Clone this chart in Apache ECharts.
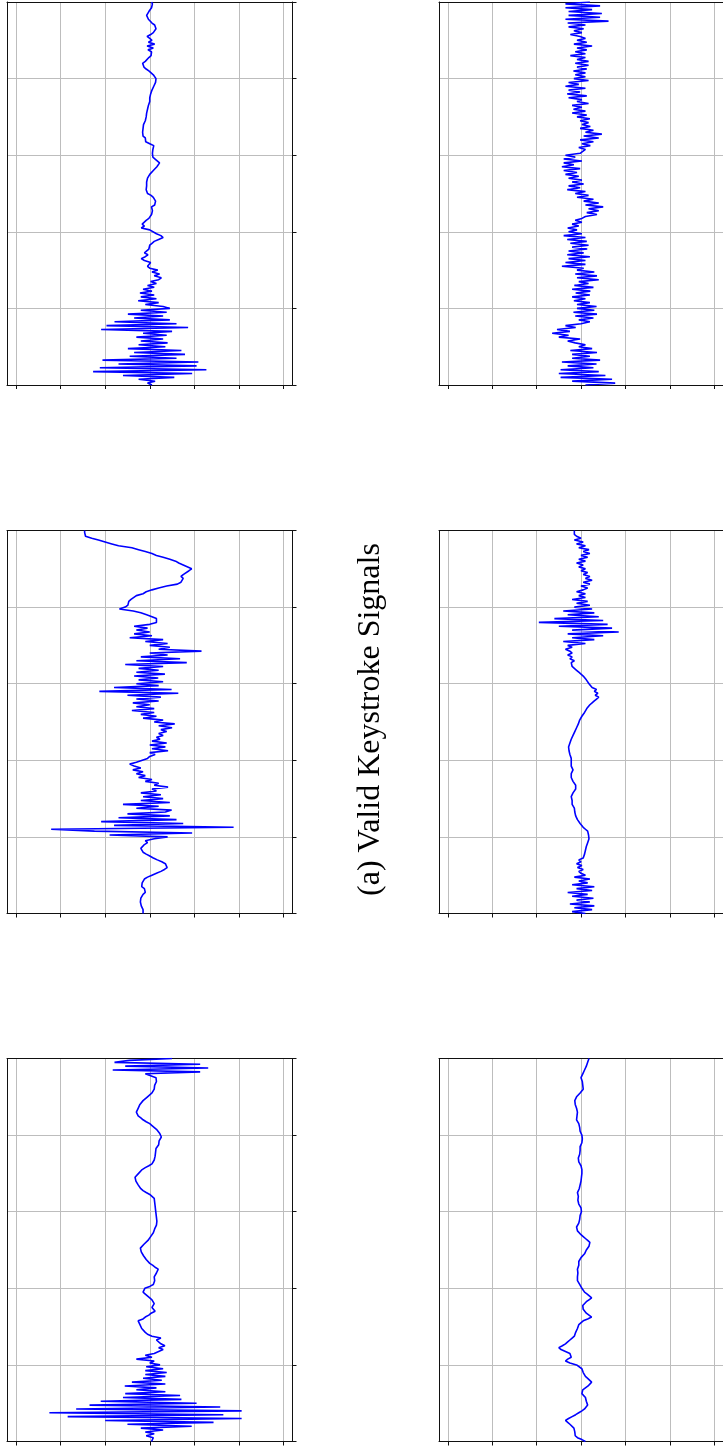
<!DOCTYPE html>
<html>
<head>
<meta charset="utf-8">
<script src="https://cdn.jsdelivr.net/npm/echarts@6/dist/echarts.min.js"></script>
<style>
html,body{margin:0;padding:0;background:#fff;}
#chart{width:723px;height:1448px;}
</style>
</head>
<body>
<div id="chart"></div>
<script>
// ---- data (time axis 0..500, value axis about -3.2..3.2) ----
const timeTicks = [0, 100, 200, 300, 400, 500];
const valueTicks = [-3, -2, -1, 0, 1, 2, 3];
const captionText = '(a) Valid Keystroke Signals';

const validSignal1 = [
0.05,-0.05,0.12,-0.25,0.55,-0.6,0.95,-1.27,1.27,-1.12,
1.05,-0.7,1.09,-1.06,0.6,-0.45,0.79,-0.35,0.71,-0.49,
0.35,-0.25,0.4,-0.2,0.3,-0.3,0.38,-0.15,0.5,-1.09,
0.86,-0.97,0.6,-0.79,0.45,-0.35,0.3,-0.49,0.38,-0.2,
0.45,0.3,-0.1,0.2,-0.26,0.15,-0.2,0.1,-0.22,0.05,
-0.15,0.1,-0.05,0.15,0.02,0.2,0.26,0.1,0.22,0.05,
0.18,0,-0.05,-0.08,0.02,-0.12,-0.19,-0.1,-0.04,-0.12,
-0.08,-0.02,-0.05,0,0.05,0.1,0.2,0.3,0.25,0.15,
0.12,0,-0.19,-0.12,-0.17,-0.15,-0.08,-0.02,0.02,0.04,
0,0.06,0.08,0.04,0.11,0.08,0.13,0.15,0.08,0.03,
-0.05,-0.09,-0.08,-0.1,-0.07,-0.09,-0.07,-0.04,-0.05,-0.02,
0,0.04,0.08,0.12,0.16,0.2,0.22,0.18,0.12,0.07,
0.05,0.06,0.1,0.07,0.11,0.09,0,-0.09,-0.12,-0.1,
-0.15,-0.14,-0.16,-0.12,-0.15,-0.13,-0.14,-0.12,-0.1,-0.11,
-0.08,-0.09,-0.07,-0.06,-0.05,-0.06,-0.03,-0.02,0,0.01,
0,0.03,0.02,0.04,0.05,0.06,0.09,0.1,0.13,0.15,
0.14,0.12,0.08,0.03,-0.02,-0.08,-0.13,-0.17,-0.16,-0.1,
-0.06,-0.02,0.03,0.07,0.04,-0.04,0.08,-0.06,0.11,-0.03,
0.05,0,-0.06,0.02,0.08,0.12,0.14,0.1,0.11,0.05,
0.02,-0.03,-0.05,-0.07,-0.05,-0.02,0.02,0.04,0.07,0.06,
0.04];

const validSignal2 = [
-0.15,-0.17,-0.15,-0.18,-0.19,-0.17,-0.21,-0.22,-0.2,-0.16,
-0.15,-0.1,-0.07,-0.12,-0.18,-0.19,-0.17,-0.19,-0.12,-0.05,
0.05,0.15,0.25,0.33,0.39,0.41,0.35,0.27,0.17,0.08,
0,-0.08,-0.15,-0.19,-0.2,-0.22,-0.12,-0.05,-0.1,0.1,
0.4,-0.9,0.95,-1.24,-2.21,1.88,-0.8,0.75,-1.09,0.6,
-0.7,0.45,-0.5,0.35,0.49,-0.3,0.2,-0.6,0.45,-0.2,
0.3,-0.15,0.25,-0.2,0.15,0.05,0.41,0.1,0.2,-0.1,
0.05,-0.25,-0.1,-0.3,-0.15,-0.38,-0.2,-0.35,-0.45,-0.3,
-0.3,-0.05,0,0.12,0,0.41,0.05,0.35,0,0.38,
0.05,0.23,0.15,0.3,0.2,0.38,0.25,0.5,0.2,0.56,
0.1,0.3,-0.15,0.15,-0.2,0.1,-0.4,0.1,-0.3,0,
-0.38,0.2,-0.3,0.25,-0.5,0.64,-1.13,0.49,-0.8,0.2,
-0.3,0.3,-0.25,0.19,-0.35,0.34,-0.3,0.2,-0.25,0.3,
-0.55,0.83,-0.3,0.68,-0.2,0.4,0,1.16,0.2,0.45,
0,0.4,-0.1,0.3,-0.45,0.05,-0.35,0,-0.3,-0.05,
-0.35,0,0.15,0.12,0.15,0.05,-0.07,-0.2,-0.37,-0.68,
-0.55,-0.49,-0.45,-0.47,-0.42,-0.41,-0.3,-0.15,-0.08,0.05,
0.2,0.38,0.62,0.7,0.71,0.75,0.7,0.75,0.78,0.88,
0.94,0.9,0.75,0.65,0.58,0.45,0.3,0.15,0.05,-0.1,
-0.25,-0.4,-0.7,-0.85,-1.0,-1.15,-1.3,-1.44,-1.47,-1.46,
-1.46];

const validSignal3 = [
0.04,0,0.08,-0.08,0.1,-0.1,0.3,-0.2,0.94,-0.5,
1.43,-1,2.06,-1.84,1.65,-2.25,2.06,-1.65,1.58,-1.35,
1.05,-1.1,0.71,-0.6,0.68,-0.55,0.35,-0.3,0.15,-0.56,
0.35,-0.4,0.27,-0.15,0.35,-0.1,0.38,-0.1,0.3,-0.08,
0.23,0,0.1,-0.3,0.05,-0.1,0.1,0.2,0.3,0.2,
0.34,0.25,0.28,0.15,0.25,0.05,-0.05,-0.1,-0.12,-0.18,
-0.15,-0.22,-0.2,-0.26,-0.15,-0.1,-0.02,0.03,0.12,0.15,
0.05,0.08,0.1,0.11,0.05,0,-0.04,-0.1,-0.15,-0.12,
-0.11,0,0.08,0.09,0.11,0.12,0.1,0.14,0.15,0.17,
0.19,0.12,0.07,0,-0.04,-0.08,-0.11,-0.14,-0.18,-0.19,
-0.22,-0.21,-0.17,-0.13,-0.1,-0.04,-0.02,0.02,0.04,0.08,
0.1,0.11,0.14,0.15,0.14,0.16,0.13,0.15,0.12,0.14,
0.11,0.13,0.11,0.12,0.1,0.11,0.08,0.1,0.06,0,
-0.08,-0.15,-0.2,-0.22,-0.26,-0.3,-0.31,-0.34,-0.33,-0.3,
-0.25,-0.21,-0.17,-0.1,-0.02,0.05,0.08,0.1,0.11,0.12,
0.15,0.13,0.16,0.14,0.15,0.2,0.22,0.21,0.25,0.26,
0.24,0.22,0.18,0.15,0.12,0.05,0,-0.08,-0.15,-0.2,
-0.26,-0.28,-0.3,-0.29,-0.26,-0.24,-0.22,-0.18,-0.15,-0.12,
-0.05,-0.02,0.05,0.08,0.1,0.12,0.11,0.13,0.15,0.12,
0.14,0.1,-0.1,1.13,-0.83,1.31,-0.55,1.13,-0.79,-0.45,
0.5];

const otherSignal1 = [
0.1,0.77,-0.2,0.7,-0.46,0.55,-0.5,0.4,-0.46,0.28,
-0.3,0.35,-0.43,0.43,-0.2,0.2,-0.2,0.36,-0.24,0.25,
-0.05,0.1,-0.13,-0.3,-0.02,-0.5,-0.28,-0.65,-0.25,-0.54,
-0.12,-0.35,0,0.2,-0.05,0.28,-0.13,0.36,-0.17,0.3,
-0.09,0.35,-0.09,0.2,-0.16,0.1,-0.2,0.2,-0.12,0.21,
-0.2,0.28,-0.15,0.17,-0.05,0.4,-0.09,0.36,-0.13,0.3,
-0.09,0.06,-0.43,0.1,-0.35,0.1,-0.28,0.2,-0.31,0.06,
-0.28,0.14,-0.2,0.17,-0.24,0.13,-0.31,0.1,-0.39,0.02,
-0.28,-0.09,-0.3,-0.05,-0.2,0.02,-0.13,0.02,0.1,0.36,
0.13,0.4,0.17,0.5,0.1,0.4,0.06,0.28,-0.09,0.17,
-0.13,0.1,-0.31,-0.02,-0.28,0.06,-0.2,0.02,-0.28,-0.05,
-0.35,-0.09,-0.39,-0.02,-0.43,-0.16,-0.39,0.02,-0.39,-0.13,
-0.35,-0.02,-0.05,0.1,-0.05,0.21,0.02,0.28,-0.02,0.4,
0.06,0.47,0.1,0.28,-0.02,0.21,0.02,0.17,-0.02,0.2,
-0.09,0.13,-0.2,0.1,-0.17,0.02,-0.2,0.17,-0.09,0.02,
-0.28,0.13,-0.31,-0.02,-0.28,0.1,-0.35,-0.05,-0.28,0.17,
-0.16,0.1,-0.13,0.1,-0.17,0.13,-0.09,0.17,-0.13,0.17,
-0.09,0.1,-0.24,0.1,-0.13,0.13,-0.09,0.25,-0.16,0.13,
-0.09,0.1,-0.02,-0.24,0.02,-0.16,0.06,-0.28,0.1,-0.3,
0.62,-0.35,0.43,-0.28,0.47,-0.28,0.25,-0.35,0.43,-0.35,
0.2];

const otherSignal2 = [
0.1,-0.2,0.25,-0.15,0.3,-0.25,0.2,-0.1,0.28,-0.2,
0.15,-0.3,0.25,-0.1,0.3,-0.2,0.15,-0.05,0.2,-0.15,
0.1,0,-0.05,0.05,-0.08,0.02,-0.1,0,-0.05,0.05,
0.02,0.08,0.05,0.1,0.08,0.12,0.1,0.15,0.12,0.18,
0.2,0.17,0.2,0.15,0.1,0.05,0.02,-0.02,-0.05,-0.08,
-0.1,-0.12,-0.1,-0.14,-0.12,-0.15,-0.18,-0.2,-0.17,-0.2,
-0.22,-0.22,-0.2,-0.18,-0.15,-0.12,-0.1,-0.12,-0.15,-0.18,
-0.2,-0.22,-0.2,-0.22,-0.2,-0.18,-0.2,-0.22,-0.2,-0.22,
-0.2,-0.22,-0.24,-0.25,-0.26,-0.27,-0.28,-0.28,-0.27,-0.25,
-0.24,-0.22,-0.2,-0.18,-0.16,-0.14,-0.12,-0.1,-0.08,-0.06,
-0.05,-0.03,0,0.02,0.05,0.08,0.1,0.13,0.16,0.2,
0.25,0.3,0.35,0.4,0.32,0.38,0.3,0.35,0.25,0.22,
0.18,0.15,0.12,0.08,0.05,0,-0.05,-0.1,-0.15,-0.2,
-0.18,-0.22,-0.15,-0.25,-0.2,-0.3,-0.2,-0.25,-0.35,-0.2,
-0.3,0.1,-0.4,0.3,-0.2,0.5,-0.3,0.85,-0.2,0.7,
-0.5,0.6,-0.95,0.5,-0.6,0.4,-0.3,0.3,-0.4,0.25,
-0.15,0.2,-0.1,0.15,-0.2,0.1,-0.05,0.1,-0.1,0.05,
0.15,0,0.2,0.05,0.25,0.1,0.2,0.05,0.15,0,
0.1,-0.05,0.05,-0.1,0.1,-0.05,0.15,0,0.2,0.05,
0.18,-0.05,0.1,-0.1,0.05,-0.15,0,-0.1,-0.15,-0.12,
-0.15];

const otherSignal3 = [
0.1,0.02,-0.08,-0.13,-0.1,-0.14,-0.12,-0.16,-0.2,-0.25,
-0.3,-0.35,-0.28,-0.2,-0.12,-0.05,0.02,0.08,0.12,0.15,
0.14,0.12,0.13,0.1,0.06,0.02,0,0.04,0.1,0.16,
0.2,0.24,0.2,0.15,0.1,0.08,0.05,0.04,0.02,0,
-0.1,-0.25,-0.35,-0.3,-0.22,-0.2,-0.25,-0.35,-0.45,-0.5,
-0.42,-0.35,-0.3,-0.25,-0.2,-0.15,-0.13,-0.12,-0.1,-0.08,
-0.06,-0.05,-0.02,0.05,0.15,0.24,0.2,0.12,0.08,0.05,
0.02,0.04,0.08,0.12,0.18,0.24,0.2,0.14,0.08,0.04,
0.02,0,-0.03,-0.06,-0.08,-0.1,-0.08,-0.1,-0.07,-0.05,
-0.08,-0.06,-0.05,-0.03,-0.05,-0.02,0,0.04,0.08,0.1,
0.12,0.15,0.18,0.22,0.2,0.15,0.1,0.05,0,-0.04,
-0.08,-0.12,-0.1,-0.08,-0.05,-0.06,-0.03,0,-0.02,0.02,
0.01,0.02,0,-0.03,-0.05,-0.04,-0.07,-0.08,-0.06,-0.1,
-0.08,-0.06,-0.04,-0.05,-0.02,-0.03,0,-0.02,0.01,0,
0.02,0,0.02,-0.01,0,-0.03,-0.05,-0.04,-0.06,-0.05,
-0.03,-0.05,-0.02,0,-0.02,0.01,0.02,0,0.03,0.02,
0.02,0,-0.02,-0.04,-0.03,-0.06,-0.05,-0.08,-0.1,-0.07,
-0.09,-0.1,-0.08,-0.12,-0.1,-0.14,-0.13,-0.16,-0.14,-0.15,
-0.1,-0.06,-0.02,0.02,0.05,0.06,0.04,0.06,0.03,0.02,
0,0.02,0.04,0.06,0.08,0.1,0.12,0.14,0.15,0.17,
0.18];

// ---- layout ----
const panels = [
  {data: validSignal1, left: 7,   top: 2},
  {data: validSignal2, left: 7,   top: 530.5},
  {data: validSignal3, left: 7,   top: 1058.5},
  {data: otherSignal1, left: 439, top: 2},
  {data: otherSignal2, left: 439, top: 530.5},
  {data: otherSignal3, left: 439, top: 1058.5}
];
const PW = 285.5, PH = 383;

function toPoints(vals) {
  const step = 500 / (vals.length - 1);
  return vals.map((v, i) => [v, i * step]);
}

const grids = [], xAxes = [], yAxes = [], series = [];
panels.forEach((p, k) => {
  grids.push({left: p.left, top: p.top, width: PW, height: PH, show: false, containLabel: false});
  xAxes.push({
    type: 'value', gridIndex: k, min: -3.2, max: 3.2, position: 'bottom',
    axisLine: {show: true, onZero: false, lineStyle: {color: '#111', width: 1}},
    axisTick: {show: true, inside: false, length: 4, customValues: valueTicks, lineStyle: {color: '#111', width: 1}},
    axisLabel: {show: false, customValues: valueTicks},
    splitLine: {show: true, lineStyle: {color: '#bdbdbd', width: 1}}
  });
  xAxes.push({
    type: 'value', gridIndex: k, min: -3.2, max: 3.2, position: 'top',
    axisLine: {show: true, onZero: false, lineStyle: {color: '#111', width: 1}},
    axisTick: {show: false}, axisLabel: {show: false}, splitLine: {show: false}
  });
  yAxes.push({
    type: 'value', gridIndex: k, min: timeTicks[0], max: timeTicks[timeTicks.length - 1], interval: 100,
    position: 'right',
    axisLine: {show: true, onZero: false, lineStyle: {color: '#111', width: 1}},
    axisTick: {show: true, inside: false, length: 4, lineStyle: {color: '#111', width: 1}},
    axisLabel: {show: false},
    splitLine: {show: true, lineStyle: {color: '#bdbdbd', width: 1}}
  });
  yAxes.push({
    type: 'value', gridIndex: k, min: 0, max: 500, position: 'left',
    axisLine: {show: true, onZero: false, lineStyle: {color: '#111', width: 1}},
    axisTick: {show: false}, axisLabel: {show: false}, splitLine: {show: false}
  });
  series.push({
    type: 'line', xAxisIndex: 2 * k, yAxisIndex: 2 * k,
    data: toPoints(p.data), showSymbol: false, symbol: 'none',
    lineStyle: {color: '#0000ff', width: 1.6}, animation: false, clip: true, z: 5
  });
});

const chart = echarts.init(document.getElementById('chart'), null, {renderer: 'canvas'});
chart.setOption({
  animation: false,
  grid: grids,
  xAxis: xAxes,
  yAxis: yAxes,
  series: series,
  graphic: [{
    type: 'text', x: 371, y: 719.5, rotation: Math.PI / 2,
    style: {
      text: captionText, fontFamily: 'Liberation Serif', fontSize: 32,
      fill: '#000', textAlign: 'center', textVerticalAlign: 'middle', verticalAlign: 'middle'
    }
  }]
});
</script>
</body>
</html>
